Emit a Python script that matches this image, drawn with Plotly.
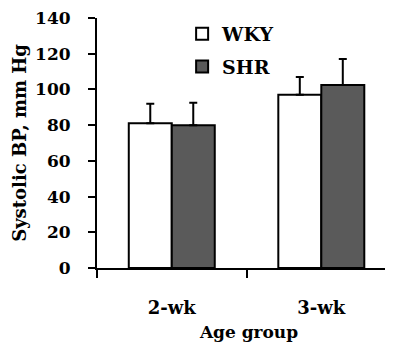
import plotly.graph_objects as go

categories = ["2-wk", "3-wk"]
wky_values = [81, 97]
wky_errors = [11, 10]
shr_values = [80, 102.5]
shr_errors = [12.5, 14.5]
y_ticks = [0, 20, 40, 60, 80, 100, 120, 140]

FONT = "DejaVu Serif"

fig = go.Figure()
fig.add_trace(go.Bar(
    x=categories, y=wky_values, name="WKY", legendgroup="a",
    marker=dict(color="white", line=dict(color="black", width=2)),
    error_y=dict(type="data", array=wky_errors, arrayminus=[0, 0], symmetric=False,
                 color="black", thickness=2, width=4),
))
fig.add_trace(go.Bar(
    x=categories, y=shr_values, name="SHR", legendgroup="b",
    marker=dict(color="#5a5a5a", line=dict(color="black", width=2)),
    error_y=dict(type="data", array=shr_errors, arrayminus=[0, 0], symmetric=False,
                 color="black", thickness=2, width=4),
))

fig.update_layout(
    width=393, height=343,
    margin=dict(l=89, r=0, t=10, b=83),
    paper_bgcolor="white", plot_bgcolor="white",
    barmode="group", bargap=0.425, bargroupgap=0,
    font=dict(family=FONT, color="black"),
    showlegend=True,
    legend=dict(x=0.28, y=1.012, xanchor="left", yanchor="top",
                font=dict(family=FONT, size=19, color="black", weight="bold"),
                tracegroupgap=5, bgcolor="rgba(0,0,0,0)", itemwidth=30),
    xaxis=dict(
        range=[-0.5, 1.533], tickson="boundaries", ticks="outside", ticklen=8,
        tickwidth=2, tickcolor="black", showline=True, linecolor="black", linewidth=2,
        tickfont=dict(family=FONT, size=18, weight="bold"), ticklabelstandoff=22,
        title=dict(text="Age group", font=dict(family=FONT, size=17, weight="bold"), standoff=10),
        showgrid=False, zeroline=False,
    ),
    yaxis=dict(
        range=[0, 140], tickvals=y_ticks, ticks="outside", ticklen=7, tickwidth=2,
        tickcolor="black", showline=True, linecolor="black", linewidth=2,
        ticklabeloverflow="allow",
        tickfont=dict(family=FONT, size=17, weight="bold"), ticklabelstandoff=14,
        title=dict(text="Systolic BP, mm Hg", font=dict(family=FONT, size=18, weight="bold"), standoff=4),
        showgrid=False, zeroline=False,
    ),
)

fig.write_html("out.html")
